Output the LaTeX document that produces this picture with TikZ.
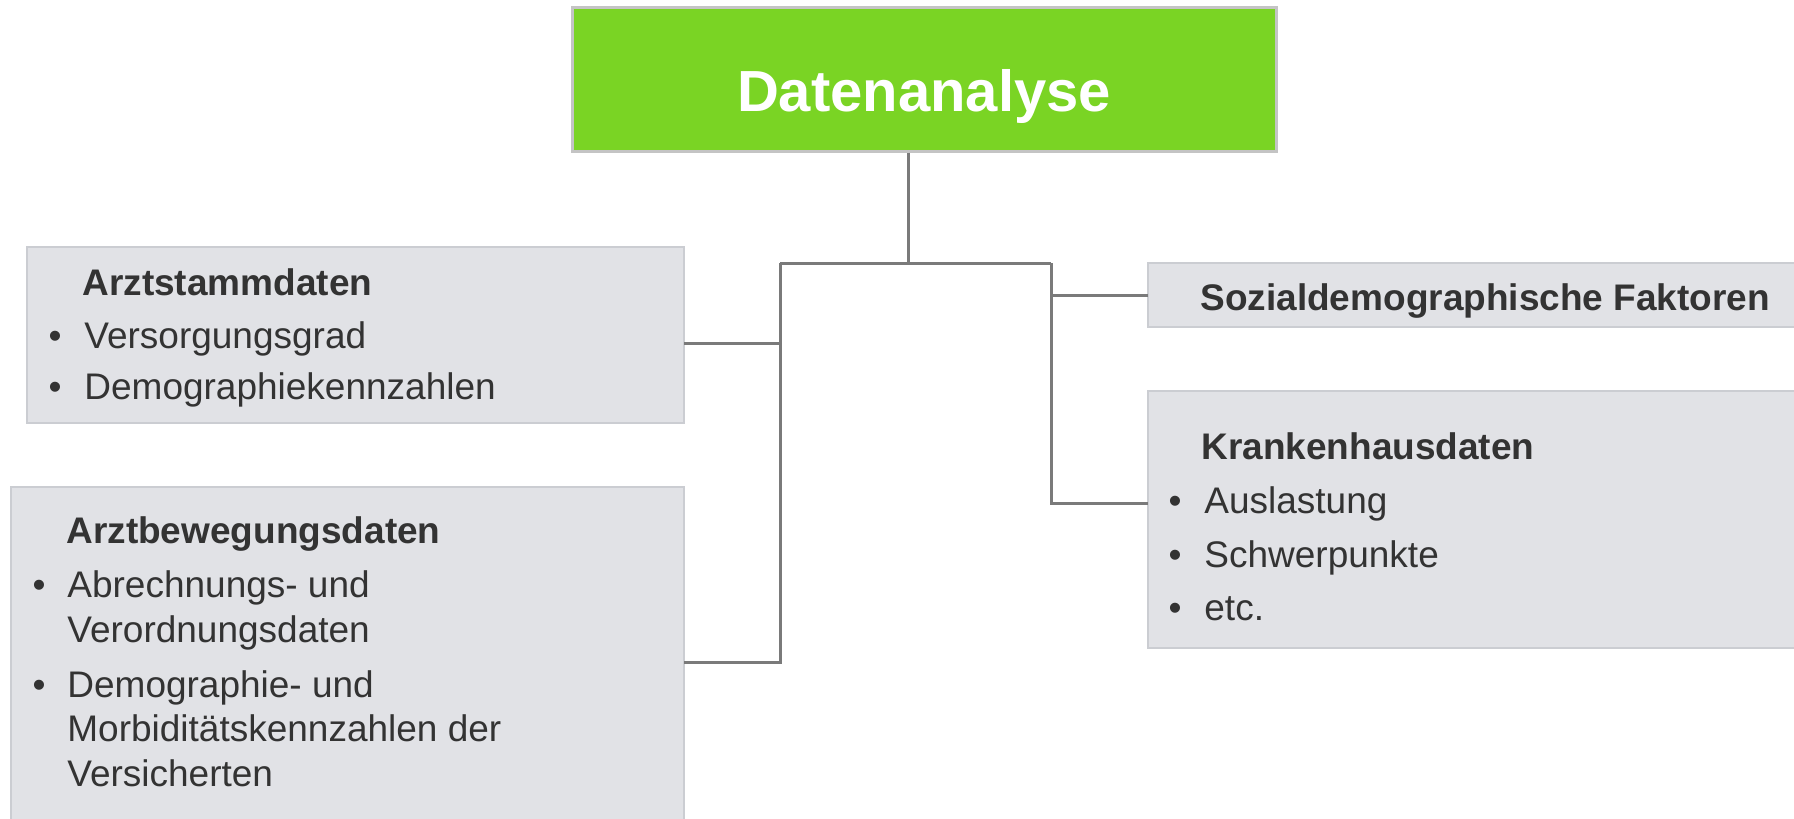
\documentclass[tikz,border=0pt]{standalone}
\usepackage{fontspec}
\setmainfont{Liberation Sans}
\usetikzlibrary{fit}

\definecolor{headgreen}{HTML}{7AD424}
\definecolor{headline}{HTML}{C4C4C4}
\definecolor{boxfill}{HTML}{E1E2E6}
\definecolor{boxline}{HTML}{CBCDD2}
\definecolor{connline}{HTML}{7A7A7A}
\definecolor{txt}{HTML}{333333}

\tikzset{
  headbox/.style={draw=headline, line width=1.5pt, fill=headgreen, inner sep=0pt},
  graybox/.style={draw=boxline, line width=1pt, fill=boxfill, inner sep=0pt},
  conn/.style={draw=connline, line width=1.5pt},
  boxhead/.style={anchor=base west, inner sep=0pt, text=txt,
    font=\fontsize{18.5}{22}\selectfont\bfseries},
  boxitem/.style={anchor=base west, inner sep=0pt, text=txt,
    font=\fontsize{18.5}{22}\selectfont},
  bulletdot/.style={anchor=base, inner sep=0pt, text=txt,
    font=\fontsize{18.5}{22}\selectfont}
}

\begin{document}
\begin{tikzpicture}[x=0.5pt, y=-0.5pt]

    % --- Frame ---
    \useasboundingbox (0,0) rectangle (1794,819);

    % --- Boxes ---
    \node[headbox, fit={(572,7) (1276,151)}] (top) {};
    \node[anchor=base, inner sep=0pt, text=white,
      font=\fontsize{29}{34}\selectfont\bfseries] (toptext) at (924,111) {Datenanalyse};

    \node[graybox, fit={(27,247) (684,423)}] (stamm) {};
    \node[graybox, fit={(11,487) (684,830)}] (bew) {};
    \node[graybox, fit={(1148,263) (1805,327)}] (soz) {};
    \node[graybox, fit={(1148,391) (1805,648)}] (kh) {};

    % --- Box texts ---
    \node[boxhead] (stamm-h) at (82,295) {Arztstammdaten};
    \foreach \y/\t [count=\i] in {348/Versorgungsgrad, 399/Demographiekennzahlen} {
      \node[bulletdot] (stamm-b\i) at (55,\y) {\textbullet};
      \node[boxitem] (stamm-t\i) at (84,\y) {\t};
    }

    \node[boxhead] (bew-h) at (66,543) {Arztbewegungsdaten};
    \node[bulletdot] (bew-b1) at (39,597) {\textbullet};
    \node[bulletdot] (bew-b2) at (39,697) {\textbullet};
    \foreach \y/\t [count=\i] in {597/Abrechnungs- und, 642/Verordnungsdaten,
        697/Demographie- und, 741/Morbiditätskennzahlen der, 786/Versicherten} {
      \node[boxitem] (bew-t\i) at (67,\y) {\t};
    }

    \node[boxhead] (soz-h) at (1200,310) {Sozialdemographische Faktoren};

    \node[boxhead] (kh-h) at (1201,459) {Krankenhausdaten};
    \foreach \y/\t [count=\i] in {513/Auslastung, 567/Schwerpunkte, 620/etc.} {
      \node[bulletdot] (kh-b\i) at (1175,\y) {\textbullet};
      \node[boxitem] (kh-t\i) at (1204,\y) {\t};
    }

    % --- Connectors ---
    \coordinate (hub) at (908,263);
    \coordinate (lbus) at (780,263);
    \coordinate (rbus) at (1051,263);
    \coordinate (stammE) at (684,343);
    \coordinate (bewE) at (684,662);
    \coordinate (sozW) at (1148,295);
    \coordinate (khW) at (1148,503);

    \draw[conn] (hub |- top.south) -- (hub);
    \draw[conn] (lbus) -- (rbus);
    \draw[conn] (lbus) |- (bewE);
    \draw[conn] (stammE) -- (stammE -| lbus);
    \draw[conn] (rbus) |- (khW);
    \draw[conn] (sozW) -- (sozW -| rbus);

\end{tikzpicture}
\end{document}
